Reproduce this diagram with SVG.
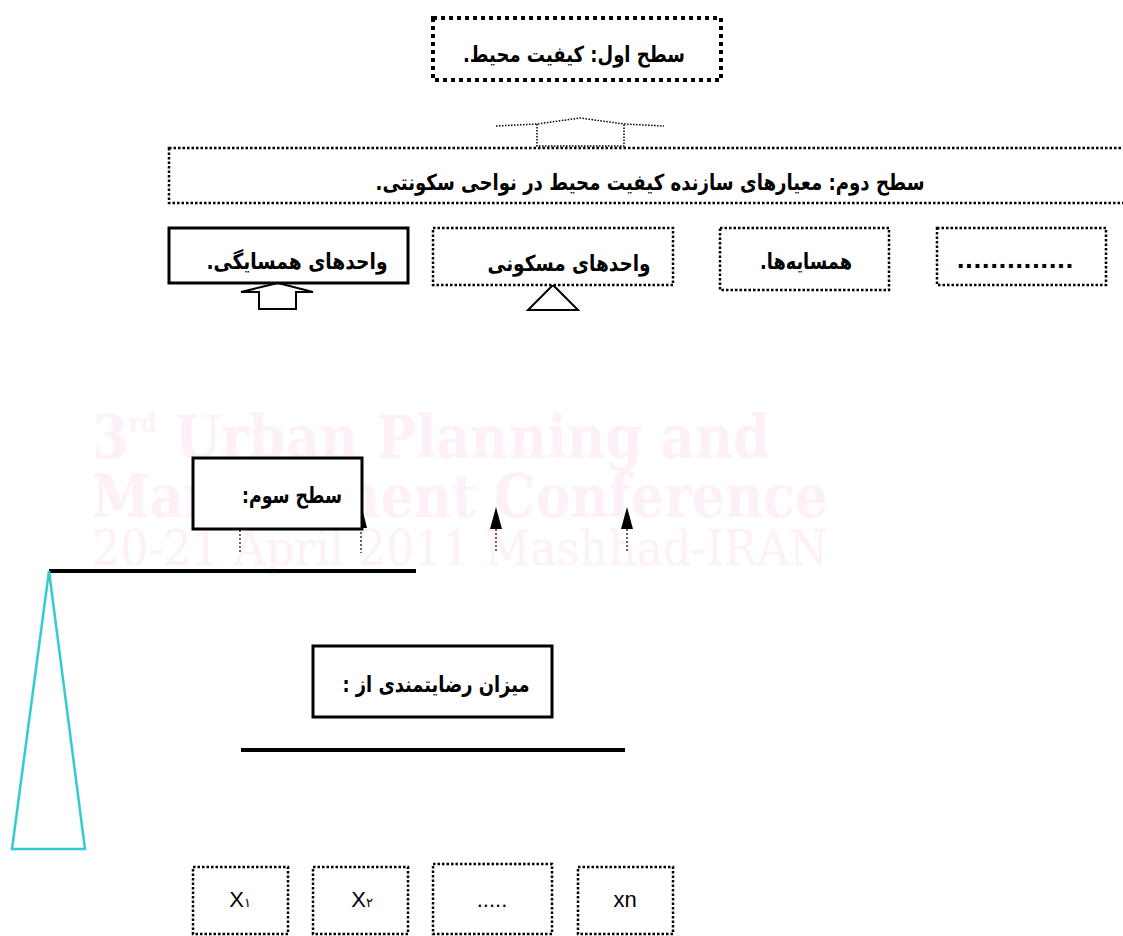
<svg xmlns="http://www.w3.org/2000/svg" width="1123" height="936" viewBox="0 0 1123 936">
<style>
.fa{font-family:"DejaVu Sans","Noto Sans",sans-serif;font-weight:bold;font-size:22px;fill:#000}
.la{font-family:"Liberation Sans",Arial,sans-serif;font-size:22px;fill:#000}
.dot{fill:#fff;stroke:#000;stroke-width:4;stroke-dasharray:4 4}
.dotthin{fill:#fff;stroke:#000;stroke-width:2.5;stroke-dasharray:2.5 2}
.solid{fill:#fff;stroke:#000;stroke-width:3}
.wm{font-family:"DejaVu Serif","Liberation Serif",serif;fill:#FDF0F9}
.dl{stroke:#000;stroke-width:1.2;stroke-dasharray:2 2}
</style>
<rect width="1123" height="936" fill="#fff"/>
<g id="watermark">
<text class="wm" x="92" y="458" font-size="60" font-weight="bold" textLength="678" lengthAdjust="spacingAndGlyphs">3<tspan font-size="26" dy="-26">rd</tspan><tspan dy="26"> Urban Planning and</tspan></text>
<text class="wm" x="92" y="517" font-size="60" font-weight="bold" textLength="736" lengthAdjust="spacingAndGlyphs">Management Conference</text>
<text class="wm" x="92" y="565" font-size="48" textLength="736" lengthAdjust="spacingAndGlyphs">20-21 April 2011 Mashhad-IRAN</text>
</g>
<g id="connectors">
<path d="M496,126 L537,124 L580,118 L624,124 L664,126" fill="none" stroke="#000" stroke-width="1.5" stroke-dasharray="1.5 1.5"/>
<path d="M537,124 L537,146 L624,146 L624,124" fill="none" stroke="#000" stroke-width="1.5" stroke-dasharray="1.5 1.5"/>
<polygon points="241,292 259,292 259,309 296,309 296,292 313,292 278,283" fill="#fff" stroke="#000" stroke-width="2"/>
<polygon points="528,310 578,310 553,285" fill="#fff" stroke="#000" stroke-width="2"/>
<line class="dl" x1="240" y1="530" x2="240" y2="553"/>
<line class="dl" x1="361" y1="528" x2="361" y2="553"/>
<polygon points="361,504 356,528 367,528" fill="#000"/>
<line class="dl" x1="496" y1="529" x2="496" y2="553"/>
<polygon points="496,507 490,529 502,529" fill="#000"/>
<line class="dl" x1="627" y1="529" x2="627" y2="553"/>
<polygon points="627,507 621,529 633,529" fill="#000"/>
<line x1="49" y1="571" x2="416" y2="571" stroke="#000" stroke-width="4"/>
<polygon points="49,571 12,849 85,849" fill="none" stroke="#33CCCC" stroke-width="2.5"/>
<line x1="241" y1="750" x2="625" y2="750" stroke="#000" stroke-width="4"/>
</g>
<g id="n1">
<rect class="dot" x="433" y="18" width="288" height="62"/>
<text class="fa" x="574" y="62" text-anchor="middle" direction="rtl" font-size="23" textLength="222" lengthAdjust="spacingAndGlyphs">سطح اول: کیفیت محیط.</text>
</g>
<g id="n2">
<rect class="dotthin" x="169" y="148" width="970" height="55"/>
<text class="fa" x="650" y="190" text-anchor="middle" direction="rtl" font-size="21" textLength="549" lengthAdjust="spacingAndGlyphs">سطح دوم: معیارهای سازنده کیفیت محیط در نواحی سکونتی.</text>
</g>
<g id="n3">
<rect class="solid" x="169" y="228" width="239" height="55"/>
<text class="fa" x="297" y="269" text-anchor="middle" direction="rtl" textLength="181" lengthAdjust="spacingAndGlyphs">واحدهای همسایگی.</text>
</g>
<g id="n4">
<rect class="dotthin" x="433" y="228" width="240" height="57"/>
<text class="fa" x="569" y="271" text-anchor="middle" direction="rtl" textLength="163" lengthAdjust="spacingAndGlyphs">واحدهای مسکونی</text>
</g>
<g id="n5">
<rect class="dotthin" x="720" y="228" width="169" height="62"/>
<text class="fa" x="806" y="269" text-anchor="middle" direction="rtl" textLength="92" lengthAdjust="spacingAndGlyphs">همسایه‌ها.</text>
</g>
<g id="n6">
<rect class="dotthin" x="937" y="228" width="169" height="57"/>
<text class="fa" x="1015" y="268" text-anchor="middle" font-size="19">..............</text>
</g>
<g id="n7">
<rect class="solid" x="193" y="458" width="169" height="71"/>
<text class="fa" x="292" y="503" text-anchor="middle" direction="rtl" textLength="100" lengthAdjust="spacingAndGlyphs">سطح سوم:</text>
</g>
<g id="n8">
<rect class="solid" x="313" y="646" width="239" height="71"/>
<text class="fa" x="436" y="692" text-anchor="middle" direction="rtl" textLength="187" lengthAdjust="spacingAndGlyphs">میزان رضایتمندی از :</text>
</g>
<g id="n9">
<rect class="dotthin" x="193" y="867" width="95" height="67"/>
<text class="la" x="240" y="907" text-anchor="middle">X<tspan font-size="13">۱</tspan></text>
</g>
<g id="n10">
<rect class="dotthin" x="313" y="867" width="95" height="67"/>
<text class="la" x="362" y="907" text-anchor="middle">X<tspan font-size="13">۲</tspan></text>
</g>
<g id="n11">
<rect class="dotthin" x="433" y="864" width="119" height="70"/>
<text class="la" x="492" y="907" text-anchor="middle">.....</text>
</g>
<g id="n12">
<rect class="dotthin" x="578" y="867" width="95" height="67"/>
<text class="la" x="625" y="907" text-anchor="middle">xn</text>
</g>
</svg>
